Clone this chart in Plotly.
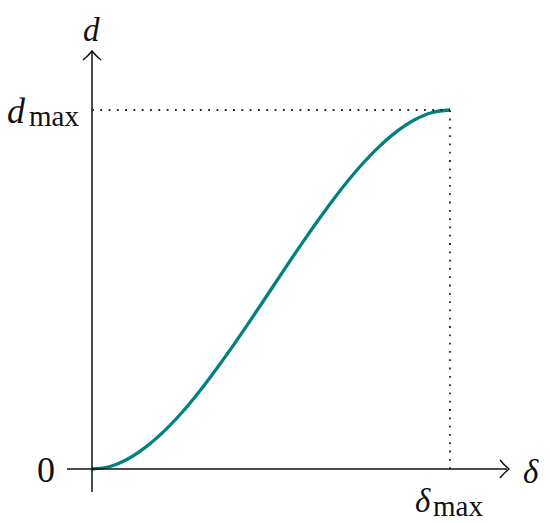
import plotly.graph_objects as go

# Normalised displacement delta/delta_max and damage d/d_max
delta = [0.0, 0.05, 0.10, 0.15, 0.20, 0.25, 0.30, 0.35, 0.40, 0.45, 0.50,
         0.55, 0.60, 0.65, 0.70, 0.75, 0.80, 0.85, 0.90, 0.95, 1.0]
d = [0.0, 0.007, 0.028, 0.061, 0.104, 0.156, 0.216, 0.282, 0.352, 0.425, 0.500,
     0.575, 0.648, 0.718, 0.784, 0.844, 0.896, 0.939, 0.972, 0.993, 1.0]

W, H = 550, 523
X0, X1 = 92, 450    # pixel positions of 0 and delta_max
Y0, Y1 = 469, 110   # pixel positions of 0 and d_max
sx = X1 - X0
sy = Y0 - Y1

def px(x, y):
    return (x - X0) / sx, (Y0 - y) / sy

xr = [px(0, 0)[0], px(W, 0)[0]]
yr = [px(0, H)[1], px(0, 0)[1]]

fig = go.Figure()
fig.add_trace(go.Scatter(x=delta, y=d, mode="lines",
                         line=dict(color="#008080", width=3.3, shape="spline"),
                         hoverinfo="skip", showlegend=False))

shapes = []
black = "#111111"
# axes
ax0 = px(67, 0)[0]; ax1 = px(507, 0)[0]
shapes.append(dict(type="line", x0=ax0, x1=ax1, y0=0, y1=0, xref="x", yref="y",
                   line=dict(color=black, width=1.5)))
ay0 = px(0, 492)[1]; ay1 = px(0, 52)[1]
shapes.append(dict(type="line", x0=0, x1=0, y0=ay0, y1=ay1, xref="x", yref="y",
                   line=dict(color=black, width=1.5)))

# vertical arrow head (open)
p = "M {},{} Q {},{} {},{} Q {},{} {},{}".format(
    *px(83, 60), *px(88, 56), *px(92, 51), *px(96, 56), *px(101, 60))
shapes.append(dict(type="path", path=p, xref="x", yref="y",
                   line=dict(color=black, width=1.5)))
# horizontal arrow head (open)
p = "M {},{} Q {},{} {},{} Q {},{} {},{}".format(
    *px(500, 460), *px(504, 465), *px(509, 469), *px(504, 473), *px(500, 478))
shapes.append(dict(type="path", path=p, xref="x", yref="y",
                   line=dict(color=black, width=1.5)))
# dotted guides
shapes.append(dict(type="line", x0=0, x1=1, y0=1, y1=1, xref="x", yref="y",
                   line=dict(color="#222222", width=1.8, dash="1.8px,6.5px")))
shapes.append(dict(type="line", x0=1, x1=1, y0=0, y1=1, xref="x", yref="y",
                   line=dict(color="#222222", width=1.8, dash="1.8px,6.5px")))

FONT = "Liberation Serif"
ann = []
def text(t, x, y, size, xanchor="center", yanchor="middle"):
    dx, dy = px(x, y)
    ann.append(dict(text=t, x=dx, y=dy, xref="x", yref="y", showarrow=False,
                    xanchor=xanchor, yanchor=yanchor,
                    font=dict(family=FONT, size=size, color=black)))

text("<i>d</i>", 91, 30, 33)
text("<i>d</i>", 28, 111, 36, xanchor="right")
text("max", 27, 116, 29, xanchor="left")
text("0", 57, 470, 36, xanchor="right")
text("<i>δ</i>", 531, 472, 33)
text("<i>δ</i>", 433, 501, 33, xanchor="right")
text("max", 431, 506, 29, xanchor="left")

fig.update_layout(width=W, height=H, margin=dict(l=0, r=0, t=0, b=0),
                  paper_bgcolor="white", plot_bgcolor="white",
                  shapes=shapes, annotations=ann,
                  xaxis=dict(range=xr, visible=False, fixedrange=True),
                  yaxis=dict(range=yr, visible=False, fixedrange=True))
fig.write_html("out.html", config={"displayModeBar": False},
               post_script="document.body.style.margin='0';document.body.style.overflow='hidden';")
